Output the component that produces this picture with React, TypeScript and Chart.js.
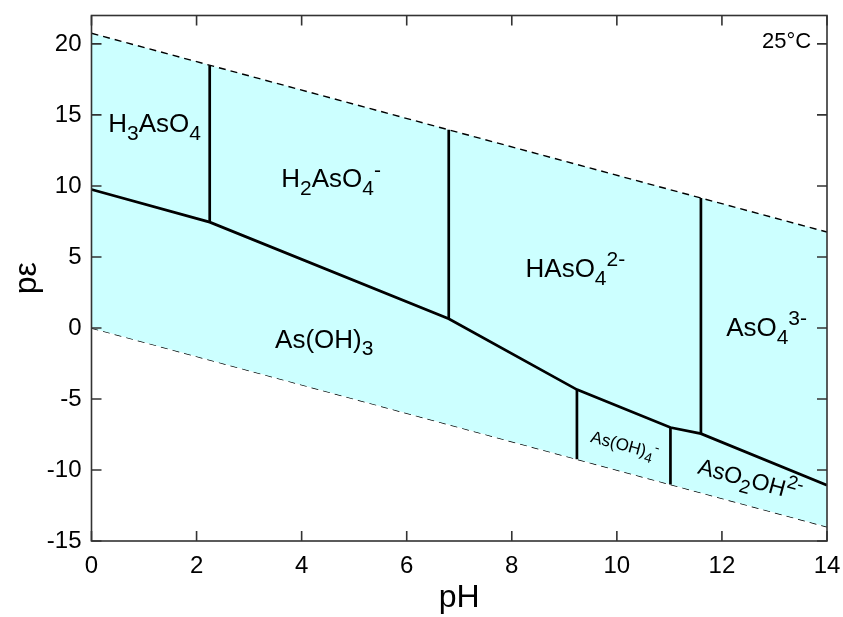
import React, { useEffect, useRef } from "react";
import { Chart, registerables } from "chart.js";
Chart.register(...registerables);

const FONT = "'Liberation Sans', Arial, sans-serif";

const xTicks = [0, 2, 4, 6, 8, 10, 12, 14];
const yTicks = [-15, -10, -5, 0, 5, 10, 15, 20];

const waterUpperPH = [0, 14];
const waterUpperPE = [20.75, 6.75];
const waterLowerPH = [0, 14];
const waterLowerPE = [0, -14];

const redoxPH = [0, 2.25, 6.8, 9.24, 11.02, 11.6, 14];
const redoxPE = [9.75, 7.45, 0.65, -4.34, -7.01, -7.44, -11.08];

const vertPH = [2.25, 6.8, 11.6, 9.24, 11.02];
const vertLow = [7.45, 0.65, -7.44, -9.24, -11.02];
const vertHigh = [18.5, 13.95, 9.15, -4.34, -7.01];

// segments: [text, kind] kind 0 normal, -1 subscript, 1 superscript
type Seg = [string, number];
const speciesText: Seg[][] = [
  [["H", 0], ["3", -1], ["AsO", 0], ["4", -1]],
  [["H", 0], ["2", -1], ["AsO", 0], ["4", -1], ["-", 1]],
  [["HAsO", 0], ["4", -1], ["2-", 1]],
  [["As(OH)", 0], ["3", -1]],
  [["AsO", 0], ["4", -1], ["3-", 1]],
  [["As(OH)", 0], ["4", -1], ["-", 1]],
  [["AsO", 0], ["2", -1], ["OH", 0], ["2-", 1]],
];
const speciesPH = [1.2, 4.56, 9.21, 4.43, 12.85, 10.12, 12.5];
const speciesPE = [13.78, 9.89, 3.59, -1.38, -0.58, -8.64, -11.2];
const speciesSize = [26, 26, 26, 26, 26, 17, 23];
const speciesRot = [0, 0, 0, 0, 0, 15, 15];

const tempLabel = "25°C";

const FILL = "rgb(204,255,255)";

function drawRich(ctx: CanvasRenderingContext2D, segs: Seg[], size: number) {
  const fontFor = (k: number) => `${k === 0 ? size : Math.round(size * 0.82)}px ${FONT}`;
  let w = 0;
  for (const [t, k] of segs) {
    ctx.font = fontFor(k);
    w += ctx.measureText(t).width;
  }
  let x = -w / 2;
  for (const [t, k] of segs) {
    ctx.font = fontFor(k);
    const dy = k === -1 ? size * 0.3 : k === 1 ? -size * 0.42 : 0;
    ctx.fillText(t, x, dy);
    x += ctx.measureText(t).width;
  }
}

const framePlugin = {
  id: "frameTicks",
  afterDatasetsDraw(chart: any) {
    const { ctx, scales } = chart;
    const xs = scales.x, ys = scales.y;
    ctx.save();
    ctx.fillStyle = "#000";
    ctx.textBaseline = "alphabetic";
    ctx.textAlign = "left";
    for (let i = 0; i < speciesText.length; i++) {
      ctx.save();
      ctx.translate(xs.getPixelForValue(speciesPH[i]), ys.getPixelForValue(speciesPE[i]));
      ctx.rotate((speciesRot[i] * Math.PI) / 180);
      drawRich(ctx, speciesText[i], speciesSize[i]);
      ctx.restore();
    }
    ctx.font = `22px ${FONT}`;
    ctx.textAlign = "right";
    ctx.fillText(tempLabel, xs.getPixelForValue(13.7), ys.getPixelForValue(19.68));
    ctx.restore();
  },
  afterDraw(chart: any) {
    const { ctx, chartArea, scales } = chart;
    const { left, right, top, bottom } = chartArea;
    const xs = scales.x, ys = scales.y;
    ctx.save();
    ctx.strokeStyle = "#333";
    ctx.lineWidth = 1.6;
    ctx.strokeRect(left, top, right - left, bottom - top);
    ctx.beginPath();
    const L = 10;
    for (const v of xTicks) {
      const p = xs.getPixelForValue(v);
      ctx.moveTo(p, bottom);
      ctx.lineTo(p, bottom - L);
      ctx.moveTo(p, top);
      ctx.lineTo(p, top + L);
    }
    for (const v of yTicks) {
      const p = ys.getPixelForValue(v);
      ctx.moveTo(left, p);
      ctx.lineTo(left + L, p);
      ctx.moveTo(right, p);
      ctx.lineTo(right - L, p);
    }
    ctx.stroke();
    ctx.restore();
  },
};

export default function App() {
  const ref = useRef<HTMLCanvasElement>(null);
  useEffect(() => {
    if (!ref.current) return;
    const vertData: any[] = [];
    vertPH.forEach((ph, i) => {
      vertData.push({ x: ph, y: vertLow[i] });
      vertData.push({ x: ph, y: vertHigh[i] });
      vertData.push({ x: ph, y: null });
    });
    const chart = new Chart(ref.current, {
      type: "line",
      data: {
        datasets: [
          {
            data: waterUpperPH.map((x, i) => ({ x, y: waterUpperPE[i] })),
            borderColor: "#000",
            borderWidth: 1.4,
            borderDash: [7, 5],
            pointRadius: 0,
            fill: "+1",
            backgroundColor: FILL,
            order: 3,
          },
          {
            data: waterLowerPH.map((x, i) => ({ x, y: waterLowerPE[i] })),
            borderColor: "#000",
            borderWidth: 1.4,
            borderDash: [7, 5],
            pointRadius: 0,
            fill: false,
            order: 3,
          },
          {
            data: redoxPH.map((x, i) => ({ x, y: redoxPE[i] })),
            borderColor: "#000",
            borderWidth: 2.7,
            pointRadius: 0,
            fill: false,
            order: 1,
          },
          {
            data: vertData,
            borderColor: "#000",
            borderWidth: 2.7,
            pointRadius: 0,
            fill: false,
            spanGaps: false,
            order: 1,
          },
        ] as any,
      },
      options: {
        responsive: false,
        animation: false,
        devicePixelRatio: 1,
        layout: { padding: { top: 15.5, right: 16, left: 0, bottom: 0 } },
        plugins: { legend: { display: false }, tooltip: { enabled: false } },
        scales: {
          x: {
            type: "linear",
            min: 0,
            max: 14,
            grid: { display: false, drawTicks: false },
            border: { display: false },
            afterBuildTicks: (s: any) => { s.ticks = xTicks.map((v) => ({ value: v })); },
            afterFit: (s: any) => { s.height = 76; s.paddingLeft = 0; s.paddingRight = 0; },
            ticks: { color: "#000", padding: 11, font: { family: FONT, size: 24 }, maxRotation: 0 },
            title: { display: true, text: "pH", color: "#000", font: { family: FONT, size: 32 }, padding: { top: 0, bottom: 0 } },
          },
          y: {
            type: "linear",
            min: -15,
            max: 22,
            grid: { display: false, drawTicks: false },
            border: { display: false },
            afterBuildTicks: (s: any) => { s.ticks = yTicks.map((v) => ({ value: v })); },
            afterFit: (s: any) => { s.width = 91.5; s.paddingTop = 0; s.paddingBottom = 0; },
            ticks: { color: "#000", padding: 10, font: { family: FONT, size: 24 } },
            title: { display: true, text: "pε", color: "#000", font: { family: FONT, size: 32 }, padding: { top: 8, bottom: 0 } },
          },
        },
      } as any,
      plugins: [framePlugin],
    });
    return () => chart.destroy();
  }, []);
  return (
    <div style={{ position: "absolute", left: 0, top: 0, width: 843, height: 617, background: "#fff" }}>
      <canvas ref={ref} width={843} height={617} />
    </div>
  );
}
